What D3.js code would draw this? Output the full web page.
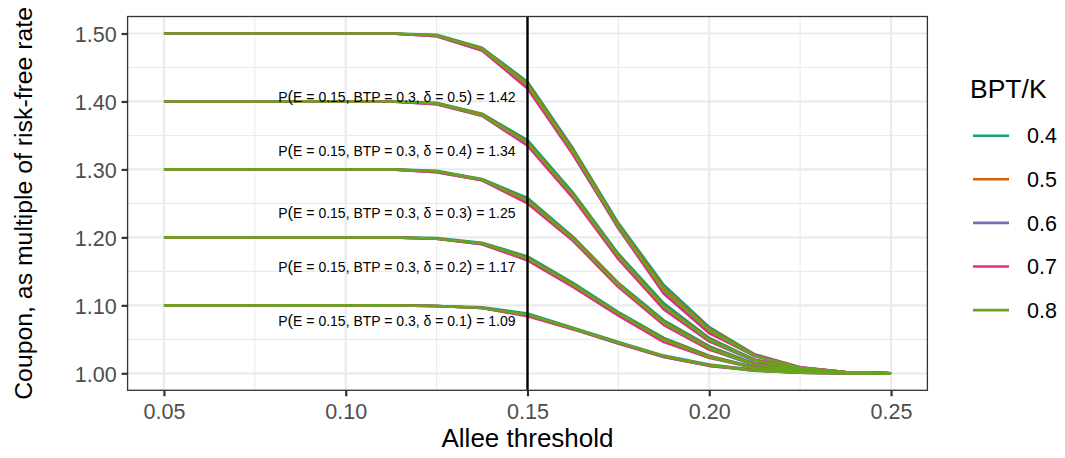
<!DOCTYPE html>
<html>
<head>
<meta charset="utf-8">
<script src="https://cdn.jsdelivr.net/npm/d3@7"></script>
<style>
  body { margin: 0; background: #fff; }
  svg { display: block; font-family: "Liberation Sans", Arial, Helvetica, sans-serif; }
</style>
</head>
<body>
<div class="coupon-plot"></div>
<script>
// Allee threshold values on the x axis
const thresholds = [0.05, 0.0625, 0.075, 0.0875, 0.1, 0.1125, 0.125, 0.1375, 0.15,
                    0.1625, 0.175, 0.1875, 0.2, 0.2125, 0.225, 0.2375, 0.25];
const bptLevels = ["0.4", "0.5", "0.6", "0.7", "0.8"];
const deltas = [0.5, 0.4, 0.3, 0.2, 0.1];
const pValues = [1.42, 1.34, 1.25, 1.17, 1.09];
const xTicks = [0.05, 0.10, 0.15, 0.20, 0.25];
const yTicks = [1.0, 1.1, 1.2, 1.3, 1.4, 1.5];

// one row per BPT/K level (0.4 .. 0.8), per delta
const couponDelta05 = [
  [1.5, 1.5, 1.5, 1.5, 1.5, 1.5, 1.498, 1.479, 1.429, 1.331, 1.221, 1.130, 1.068, 1.028, 1.009, 1.002, 1.0],
  [1.5, 1.5, 1.5, 1.5, 1.5, 1.5, 1.497, 1.478, 1.426, 1.328, 1.218, 1.125, 1.065, 1.027, 1.008, 1.002, 1.0],
  [1.5, 1.5, 1.5, 1.5, 1.5, 1.5, 1.496, 1.475, 1.421, 1.323, 1.213, 1.118, 1.060, 1.025, 1.008, 1.002, 1.0],
  [1.5, 1.5, 1.5, 1.5, 1.5, 1.5, 1.496, 1.475, 1.419, 1.322, 1.214, 1.117, 1.059, 1.027, 1.009, 1.002, 1.0],
  [1.5, 1.5, 1.5, 1.5, 1.5, 1.5, 1.497, 1.477, 1.424, 1.326, 1.216, 1.122, 1.063, 1.026, 1.008, 1.002, 1.0]
];
const couponDelta04 = [
  [1.4, 1.4, 1.4, 1.4, 1.4, 1.4, 1.398, 1.382, 1.343, 1.266, 1.176, 1.103, 1.052, 1.020, 1.006, 1.001, 1.0],
  [1.4, 1.4, 1.4, 1.4, 1.4, 1.4, 1.397, 1.381, 1.340, 1.263, 1.173, 1.099, 1.050, 1.019, 1.006, 1.001, 1.0],
  [1.4, 1.4, 1.4, 1.4, 1.4, 1.4, 1.396, 1.379, 1.336, 1.259, 1.169, 1.095, 1.047, 1.018, 1.006, 1.001, 1.0],
  [1.4, 1.4, 1.4, 1.4, 1.4, 1.4, 1.396, 1.379, 1.335, 1.258, 1.168, 1.094, 1.047, 1.020, 1.007, 1.001, 1.0],
  [1.4, 1.4, 1.4, 1.4, 1.4, 1.4, 1.397, 1.380, 1.339, 1.262, 1.172, 1.098, 1.049, 1.019, 1.006, 1.001, 1.0]
];
const couponDelta03 = [
  [1.3, 1.3, 1.3, 1.3, 1.3, 1.3, 1.298, 1.286, 1.258, 1.201, 1.133, 1.078, 1.040, 1.014, 1.004, 1.001, 1.0],
  [1.3, 1.3, 1.3, 1.3, 1.3, 1.3, 1.297, 1.285, 1.255, 1.199, 1.131, 1.075, 1.038, 1.013, 1.004, 1.001, 1.0],
  [1.3, 1.3, 1.3, 1.3, 1.3, 1.3, 1.296, 1.284, 1.251, 1.196, 1.128, 1.072, 1.035, 1.012, 1.004, 1.001, 1.0],
  [1.3, 1.3, 1.3, 1.3, 1.3, 1.3, 1.296, 1.284, 1.250, 1.195, 1.127, 1.071, 1.035, 1.014, 1.005, 1.001, 1.0],
  [1.3, 1.3, 1.3, 1.3, 1.3, 1.3, 1.297, 1.285, 1.254, 1.198, 1.130, 1.074, 1.037, 1.013, 1.004, 1.001, 1.0]
];
const couponDelta02 = [
  [1.2, 1.2, 1.2, 1.2, 1.2, 1.2, 1.199, 1.192, 1.172, 1.133, 1.090, 1.052, 1.026, 1.009, 1.002, 1.0, 1.0],
  [1.2, 1.2, 1.2, 1.2, 1.2, 1.2, 1.198, 1.191, 1.170, 1.131, 1.088, 1.050, 1.025, 1.008, 1.002, 1.0, 1.0],
  [1.2, 1.2, 1.2, 1.2, 1.2, 1.2, 1.198, 1.190, 1.167, 1.128, 1.086, 1.047, 1.023, 1.008, 1.002, 1.0, 1.0],
  [1.2, 1.2, 1.2, 1.2, 1.2, 1.2, 1.198, 1.190, 1.166, 1.127, 1.085, 1.046, 1.023, 1.009, 1.003, 1.0, 1.0],
  [1.2, 1.2, 1.2, 1.2, 1.2, 1.2, 1.198, 1.191, 1.169, 1.130, 1.088, 1.049, 1.024, 1.008, 1.002, 1.0, 1.0]
];
const couponDelta01 = [
  [1.1, 1.1, 1.1, 1.1, 1.1, 1.1, 1.099, 1.097, 1.088, 1.067, 1.046, 1.026, 1.013, 1.005, 1.001, 1.0, 1.0],
  [1.1, 1.1, 1.1, 1.1, 1.1, 1.1, 1.099, 1.096, 1.086, 1.066, 1.045, 1.025, 1.012, 1.004, 1.001, 1.0, 1.0],
  [1.1, 1.1, 1.1, 1.1, 1.1, 1.1, 1.099, 1.096, 1.085, 1.065, 1.044, 1.024, 1.011, 1.004, 1.001, 1.0, 1.0],
  [1.1, 1.1, 1.1, 1.1, 1.1, 1.1, 1.099, 1.096, 1.084, 1.065, 1.044, 1.024, 1.011, 1.005, 1.001, 1.0, 1.0],
  [1.1, 1.1, 1.1, 1.1, 1.1, 1.1, 1.099, 1.096, 1.086, 1.066, 1.045, 1.025, 1.012, 1.004, 1.001, 1.0, 1.0]
];
const couponByDelta = [couponDelta05, couponDelta04, couponDelta03, couponDelta02, couponDelta01];

const colors = ["#1B9E77", "#D95F02", "#7570B3", "#E7298A", "#66A61E"];

function renderCouponPlot() {
	const width = 1065;
	const height = 458;
	const panel = {left: 127.6, right: 927.4, top: 16.5, bottom: 390.3};

	const svg = d3.select('.coupon-plot')
				.append('svg')
				.attr('width', width)
				.attr('height', height);

	// ggplot style expansion of 5%
	const x = d3.scaleLinear()
				.domain([0.04, 0.26])
				.range([panel.left, panel.right]);
	const y = d3.scaleLinear()
				.domain([0.975, 1.525])
				.range([panel.bottom, panel.top]);

	// grid lines
	const grid = svg.append('g');
	const xMinor = [0.075, 0.125, 0.175, 0.225];
	const yMinor = [1.05, 1.15, 1.25, 1.35, 1.45];
	grid.selectAll('.xminor').data(xMinor).enter().append('line')
		.attr('x1', d => x(d)).attr('x2', d => x(d))
		.attr('y1', panel.top).attr('y2', panel.bottom)
		.attr('stroke', '#ebebeb').attr('stroke-width', 1.1);
	grid.selectAll('.yminor').data(yMinor).enter().append('line')
		.attr('y1', d => y(d)).attr('y2', d => y(d))
		.attr('x1', panel.left).attr('x2', panel.right)
		.attr('stroke', '#ebebeb').attr('stroke-width', 1.1);
	grid.selectAll('.xmajor').data(xTicks).enter().append('line')
		.attr('x1', d => x(d)).attr('x2', d => x(d))
		.attr('y1', panel.top).attr('y2', panel.bottom)
		.attr('stroke', '#ebebeb').attr('stroke-width', 2.2);
	grid.selectAll('.ymajor').data(yTicks).enter().append('line')
		.attr('y1', d => y(d)).attr('y2', d => y(d))
		.attr('x1', panel.left).attr('x2', panel.right)
		.attr('stroke', '#ebebeb').attr('stroke-width', 2.2);

	// the lines, drawn level by level so green ends on top
	const line = d3.line()
				.x((d, i) => x(thresholds[i]))
				.y(d => y(d));
	bptLevels.forEach((level, k) => {
		svg.append('g').selectAll('path')
			.data(couponByDelta.map(rows => rows[k]))
			.enter()
			.append('path')
			.attr('d', line)
			.attr('fill', 'none')
			.attr('stroke', colors[k])
			.attr('stroke-width', 2.6)
			.attr('stroke-linejoin', 'round');
	});

	// vertical line at threshold 0.15
	svg.append('line')
		.attr('x1', x(0.15)).attr('x2', x(0.15))
		.attr('y1', panel.top).attr('y2', panel.bottom)
		.attr('stroke', 'black')
		.attr('stroke-width', 2.4);

	// labels
	const labels = svg.selectAll('.plabel')
				.data(deltas)
				.enter()
				.append('text')
				.attr('x', x(0.15) - 12)
				.attr('y', (d, i) => y(pValues[i] - 0.0135))
				.attr('dy', '0.36em')
				.attr('text-anchor', 'end')
				.attr('font-size', '14px')
				.attr('fill', 'black');
	labels.append('tspan').text('P');
	labels.append('tspan').attr('font-size', '16.5px').text('(');
	labels.append('tspan').text(d => `E = 0.15, BTP = 0.3, δ = ${d}`);
	labels.append('tspan').attr('font-size', '16.5px').text(')');
	labels.append('tspan').text((d, i) => ` = ${pValues[i].toFixed(2)}`);

	// panel border
	svg.append('rect')
		.attr('x', panel.left).attr('y', panel.top)
		.attr('width', panel.right - panel.left)
		.attr('height', panel.bottom - panel.top)
		.attr('fill', 'none')
		.attr('stroke', '#333333')
		.attr('stroke-width', 1.3);

	// axes
	const xAxis = svg.append('g')
				.attr('transform', `translate(0,${panel.bottom})`)
				.call(d3.axisBottom(x).tickValues(xTicks).tickFormat(d3.format('.2f')).tickSize(6).tickPadding(4));
	const yAxis = svg.append('g')
				.attr('transform', `translate(${panel.left},0)`)
				.call(d3.axisLeft(y).tickValues(yTicks).tickFormat(d3.format('.2f')).tickSize(6).tickPadding(5));
	[xAxis, yAxis].forEach(ax => {
		ax.select('.domain').remove();
		ax.selectAll('line').attr('stroke', '#333333').attr('stroke-width', 2.2);
		ax.selectAll('text')
			.attr('fill', '#4d4d4d')
			.attr('font-size', '21.5px')
			.attr('font-family', '"Liberation Sans", Arial, Helvetica, sans-serif');
	});
	xAxis.selectAll('text').attr('dy', '0.85em');
	yAxis.selectAll('text').attr('dy', '0.36em');

	// axis titles
	svg.append('text')
		.text('Allee threshold')
		.attr('x', (panel.left + panel.right) / 2)
		.attr('y', 447)
		.attr('text-anchor', 'middle')
		.attr('font-size', '26px')
		.attr('fill', 'black');
	svg.append('text')
		.text('Coupon, as multiple of risk-free rate')
		.attr('transform', `translate(32,${(panel.top + panel.bottom) / 2}) rotate(-90)`)
		.attr('text-anchor', 'middle')
		.attr('font-size', '24.8px')
		.attr('fill', 'black');

	// legend
	const legend = svg.append('g');
	legend.append('text')
		.text('BPT/K')
		.attr('x', 970)
		.attr('y', 98)
		.attr('font-size', '26.5px')
		.attr('fill', 'black');
	const keys = legend.selectAll('.key')
				.data(bptLevels)
				.enter()
				.append('g')
				.attr('transform', (d, i) => `translate(0,${135.7 + i * 43.6})`);
	keys.append('line')
		.attr('x1', 973).attr('x2', 1009)
		.attr('y1', 0).attr('y2', 0)
		.attr('stroke', (d, i) => colors[i])
		.attr('stroke-width', 2.6);
	keys.append('text')
		.text(d => d)
		.attr('x', 1027)
		.attr('dy', '0.36em')
		.attr('font-size', '21.5px')
		.attr('fill', 'black');
}

renderCouponPlot();
</script>
</body>
</html>
